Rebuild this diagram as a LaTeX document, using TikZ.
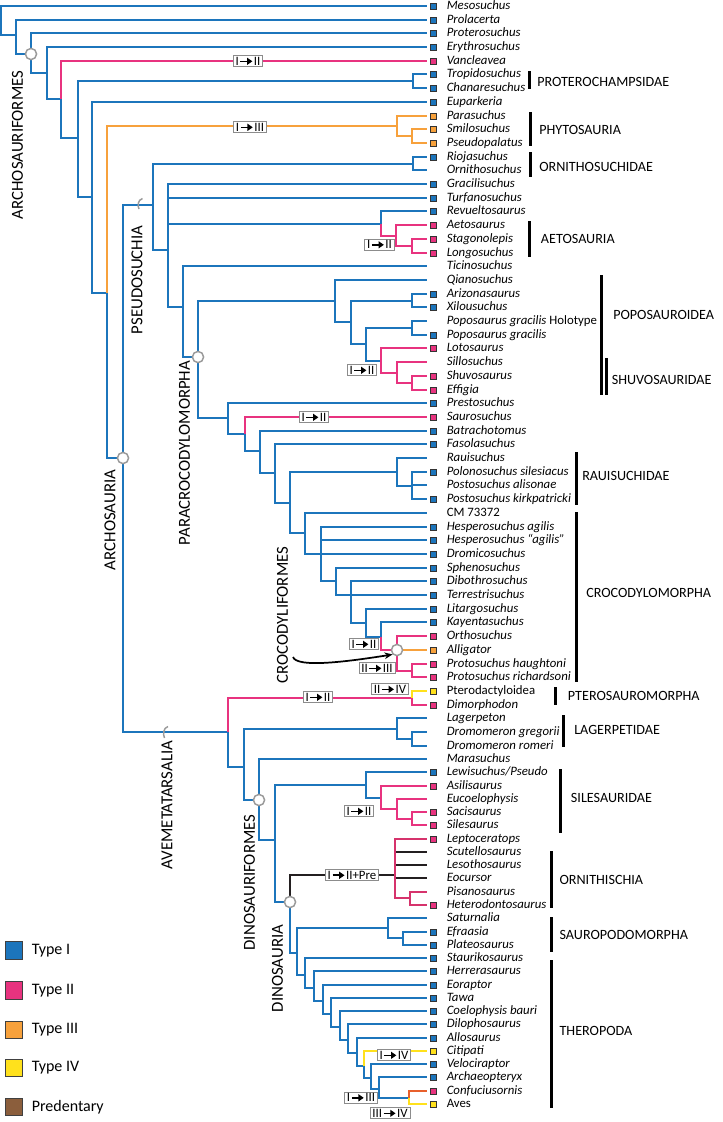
\documentclass[tikz,border=0pt]{standalone}
\usepackage{fontspec}
\setmainfont{Carlito}
\usetikzlibrary{arrows.meta}
\definecolor{cB}{HTML}{1C75BC}
\definecolor{cP}{HTML}{E8337F}
\definecolor{cO}{HTML}{F7A13C}
\definecolor{cY}{HTML}{FFE11C}
\definecolor{cR}{HTML}{E8602C}
\definecolor{cBr}{HTML}{8B5E3C}
\definecolor{cK}{HTML}{231F20}
\definecolor{cOp}{HTML}{D6336C}
\definecolor{cG}{HTML}{9A9A9A}
\newcommand{\tarr}{\kern0.6pt\tikz[baseline=-0.62ex]\draw[line width=1.2pt,-{Triangle[length=4pt,width=5.2pt]}](0,0)--(9pt,0);\kern0.6pt}
\newcommand{\edg}[3][]{\draw[br,#1] (#2) |- (#3);}
\begin{document}
\begin{tikzpicture}[x=0.75pt,y=-0.75pt,
  br/.style={line width=1.5pt,cB},
  thk/.style={line width=2.2pt},
  circ/.style={circle,draw=cG,fill=white,line width=1.1pt,minimum size=8.4pt,inner sep=0pt},
  mk/.style={rectangle,minimum size=4.6pt,inner sep=0pt,draw=black!80,line width=0.5pt},
  tipname/.style={anchor=west,inner sep=0pt,text height=6.6pt,text depth=2pt,font=\itshape\fontsize{9.6}{11}\selectfont},
  tbox/.style={draw=black!45,fill=white,line width=0.6pt,inner xsep=1.8pt,inner ysep=1pt,font=\fontsize{9.6}{10}\selectfont},
  clade/.style={anchor=west,inner sep=0pt,font=\fontsize{10.6}{12}\selectfont},
  cbar/.style={line width=2.3pt,black},
  vlab/.style={rotate=90,inner sep=0pt,font=\fontsize{12.6}{14}\selectfont},
  leg/.style={rectangle,minimum size=13pt,inner sep=0pt,draw=black!75,line width=0.6pt},
  legt/.style={anchor=west,inner sep=0pt,font=\fontsize{12}{14}\selectfont},
  arcm/.style={draw=cG,line width=1.1pt}
]
\useasboundingbox (0,0) rectangle (723,1122);

% ---------- tips ----------
\foreach \i in {1,...,82}{
  \pgfmathsetmacro\yy{\i<56 ? 6+(\i-1)*13.7 : 759+(\i-56)*13.27}
  \pgfmathsetmacro\yy{round(\yy)}
  \coordinate (t\i) at (427,\yy);
}

% ---------- internal nodes ----------
\coordinate (R0) at (1,20);
\coordinate (N16) at (16,35);
\coordinate (N31) at (31,54);
\coordinate (N47) at (47,73);
\coordinate (N61) at (61,99);
\coordinate (N78) at (78,138);
\coordinate (Prot) at (413,81);
\coordinate (N92) at (92,197);
\coordinate (N107) at (107,293);
\coordinate (Phyt) at (397,126);
\coordinate (PhytB) at (412,136);
\coordinate (A) at (123,458);
\coordinate (P) at (153,205);
\coordinate (Orni) at (413,164);
\coordinate (N168) at (168,250);
\coordinate (Aet0) at (381,224);
\coordinate (Aet1) at (396,236);
\coordinate (Aet2) at (412,246);
\coordinate (N183) at (183,307);
\coordinate (PC) at (198,357);
\coordinate (Popo) at (335,301);
\coordinate (N351) at (351,322);
\coordinate (AX) at (412,301);
\coordinate (N366) at (366,344);
\coordinate (PG) at (412,328);
\coordinate (N381) at (381,361);
\coordinate (N396) at (397,373);
\coordinate (SE) at (412,383);
\coordinate (N228) at (228,418);
\coordinate (N245) at (245,434);
\coordinate (N260) at (260,451);
\coordinate (N275) at (275,473);
\coordinate (N290) at (290,503);
\coordinate (Raui) at (397,472);
\coordinate (RauiB) at (412,486);
\coordinate (N305) at (305,533);
\coordinate (N321) at (321,554);
\coordinate (N336) at (336,581);
\coordinate (N351b) at (351,595);
\coordinate (N366b) at (366,623);
\coordinate (N381b) at (381,637);
\coordinate (C) at (397,650);
\coordinate (ProtoN) at (412,671);
\coordinate (AV) at (228,732);
\coordinate (Ptero) at (412,698);
\coordinate (N244) at (244,767);
\coordinate (Lag) at (397,729);
\coordinate (LagB) at (412,739);
\coordinate (DF) at (259,800);
\coordinate (N275b) at (275,840);
\coordinate (Sil) at (366,785);
\coordinate (N381c) at (381,798);
\coordinate (N397c) at (397,809);
\coordinate (SilB) at (412,819);
\coordinate (DN) at (290,902);
\coordinate (Ornith) at (395,875);
\coordinate (OrnB) at (410,898);
\coordinate (SA) at (297,953);
\coordinate (Saur) at (388,928);
\coordinate (SaurB) at (403,938);
\coordinate (N305c) at (305,975);
\coordinate (N314) at (314,988);
\coordinate (N323) at (323,1001);
\coordinate (N331) at (331,1014);
\coordinate (N340) at (340,1027);
\coordinate (N348) at (348,1040);
\coordinate (N357) at (357,1053);
\coordinate (N364) at (364,1066);
\coordinate (N371) at (371,1078);
\coordinate (N379) at (379,1089);
\coordinate (N409) at (409,1098);

% ---------- blue edges ----------
\edg{R0}{t1}\edg{R0}{N16}
\edg{N16}{t2}\edg{N16}{N31}
\edg{N31}{t3}\edg{N31}{N47}
\edg{N47}{t4}\edg{N47}{N61}
\edg{N61}{N78}
\edg{N78}{Prot}\edg{N78}{N92}
\edg{Prot}{t6}\edg{Prot}{t7}
\edg{N92}{t8}\edg{N92}{N107}
\edg{N107}{A}
\edg{A}{P}\edg{A}{AV}
\edg{P}{Orni}\edg{P}{N168}
\edg{Orni}{t12}\edg{Orni}{t13}
\edg{N168}{t14}\edg{N168}{t15}\edg{N168}{Aet0}\edg{N168}{N183}
\edg{Aet0}{t16}
\edg{N183}{t20}\edg{N183}{PC}
\edg{PC}{Popo}\edg{PC}{N228}
\edg{Popo}{t21}\edg{Popo}{N351}
\edg{N351}{AX}\edg{N351}{N366}
\edg{AX}{t22}\edg{AX}{t23}
\edg{N366}{PG}\edg{N366}{N381}
\edg{PG}{t24}\edg{PG}{t25}
\edg{N228}{t30}\edg{N228}{N245}
\edg{N245}{N260}
\edg{N260}{t32}\edg{N260}{N275}
\edg{N275}{t33}\edg{N275}{N290}
\edg{N290}{Raui}\edg{N290}{N305}
\edg{Raui}{t34}\edg{Raui}{RauiB}
\edg{RauiB}{t35}\edg{RauiB}{t36}\edg{RauiB}{t37}
\edg{N305}{t38}\edg{N305}{N321}
\edg{N321}{t39}\edg{N321}{t40}\edg{N321}{t41}\edg{N321}{N336}
\edg{N336}{t42}\edg{N336}{N351b}
\edg{N351b}{t43}\edg{N351b}{t44}\edg{N351b}{N366b}
\edg{N366b}{t45}\edg{N366b}{N381b}
\edg{N381b}{t46}
\edg{AV}{N244}
\edg{N244}{Lag}\edg{N244}{DF}
\edg{Lag}{t53}\edg{Lag}{LagB}
\edg{LagB}{t54}\edg{LagB}{t55}
\edg{DF}{t56}\edg{DF}{N275b}
\edg{N275b}{Sil}\edg{N275b}{DN}
\edg{Sil}{t57}\edg{Sil}{N381c}
\edg{DN}{SA}
\edg{SA}{Saur}\edg{SA}{N305c}
\edg{Saur}{t68}\edg{Saur}{SaurB}
\edg{SaurB}{t69}\edg{SaurB}{t70}
\edg{N305c}{t71}\edg{N305c}{N314}
\edg{N314}{t72}\edg{N314}{N323}
\edg{N323}{t73}\edg{N323}{N331}
\edg{N331}{t74}\edg{N331}{N340}
\edg{N340}{t75}\edg{N340}{N348}
\edg{N348}{t76}\edg{N348}{N357}
\edg{N357}{t77}\edg{N357}{N364}
\edg{N364}{N371}
\edg{N371}{t79}\edg{N371}{N379}
\edg{N379}{t80}\edg{N379}{N409}

% ---------- coloured edges ----------
\edg[cP]{N61}{t5}
\edg[cO]{N107}{Phyt}
\edg[cO]{Phyt}{t9}\edg[cO]{Phyt}{PhytB}
\edg[cO]{PhytB}{t10}\edg[cO]{PhytB}{t11}
\edg[cP]{Aet0}{Aet1}
\edg[cP]{Aet1}{t17}\edg[cP]{Aet1}{Aet2}
\edg[cP]{Aet2}{t18}\edg[cP]{Aet2}{t19}
\edg[cP]{N381}{t26}\edg[cP]{N381}{N396}
\edg[cP]{N396}{t27}\edg[cP]{N396}{SE}
\edg[cP]{SE}{t28}\edg[cP]{SE}{t29}
\edg[cP]{N245}{t31}
\edg[cP]{N381b}{C}
\edg[cP]{C}{t47}\edg[cO]{C}{t48}\edg[cP]{C}{ProtoN}
\edg[cP]{ProtoN}{t49}\edg[cP]{ProtoN}{t50}
\edg[cP]{AV}{Ptero}
\edg[cY]{Ptero}{t51}\edg[cP]{Ptero}{t52}
\edg[cP]{N381c}{t58}\edg[cP]{N381c}{N397c}
\edg[cP]{N397c}{t59}\edg[cP]{N397c}{SilB}
\edg[cP]{SilB}{t60}\edg[cP]{SilB}{t61}
\edg[cK]{DN}{Ornith}
\edg[cK,thk]{Ornith}{t63}\edg[cK,thk]{Ornith}{t64}\edg[cK,thk]{Ornith}{t65}
\edg[cOp,thk]{Ornith}{t62}\edg[cOp,thk]{Ornith}{OrnB}
\edg[cOp,thk]{OrnB}{t66}\edg[cOp,thk]{OrnB}{t67}
\edg[cY]{N364}{t78}
\edg[cR]{N409}{t81}\edg[cY]{N409}{t82}

% ---------- node circles and clade arcs ----------
\node[circ] (cN31) at (N31) {};
\node[circ] (cPC) at (PC) {};
\node[circ] (cA) at (A) {};
\node[circ] (cC) at (C) {};
\node[circ] (cDF) at (DF) {};
\node[circ] (cDN) at (DN) {};
\draw[arcm] (142.5,198.5) .. controls (137.5,200) and (137.5,206) .. (139,209);
\draw[arcm] (168,726.5) .. controls (163,728) and (163,734.5) .. (164.5,738);

% ---------- tip markers ----------
\foreach \i/\c in {1/cB,2/cB,3/cB,4/cB,5/cP,6/cB,7/cB,8/cB,9/cO,10/cO,11/cO,12/cB,
  14/cB,15/cB,16/cB,17/cP,18/cP,19/cP,22/cB,23/cB,25/cB,26/cP,28/cP,29/cP,
  30/cB,31/cP,32/cB,33/cB,35/cB,37/cB,39/cB,40/cB,41/cB,42/cB,43/cB,44/cB,45/cB,46/cB,
  47/cP,48/cO,49/cP,50/cP,51/cY,52/cP,57/cB,58/cP,60/cP,61/cP,62/cP,67/cP,
  69/cB,70/cB,71/cB,72/cB,73/cB,74/cB,75/cB,76/cB,77/cB,78/cY,79/cB,80/cB,81/cP,82/cY}
  {\path (t\i) ++(6,0) node[mk,fill=\c] (m\i) {};}

% ---------- tip names ----------
\foreach \i/\nm in {1/Mesosuchus,2/Prolacerta,3/Proterosuchus,4/Erythrosuchus,5/Vancleavea,
  6/Tropidosuchus,7/Chanaresuchus,8/Euparkeria,9/Parasuchus,10/Smilosuchus,11/Pseudopalatus,
  12/Riojasuchus,13/Ornithosuchus,14/Gracilisuchus,15/Turfanosuchus,16/Revueltosaurus,
  17/Aetosaurus,18/Stagonolepis,19/Longosuchus,20/Ticinosuchus,21/Qianosuchus,
  22/Arizonasaurus,23/Xilousuchus,24/{Poposaurus gracilis {\upshape Holotype}},
  25/Poposaurus gracilis,26/Lotosaurus,27/Sillosuchus,28/Shuvosaurus,29/Effigia,
  30/Prestosuchus,31/Saurosuchus,32/Batrachotomus,33/Fasolasuchus,34/Rauisuchus,
  35/Polonosuchus silesiacus,36/Postosuchus alisonae,37/Postosuchus kirkpatricki,
  38/{\upshape CM 73372},39/Hesperosuchus agilis,40/Hesperosuchus “agilis”,
  41/Dromicosuchus,42/Sphenosuchus,43/Dibothrosuchus,44/Terrestrisuchus,45/Litargosuchus,
  46/Kayentasuchus,47/Orthosuchus,48/Alligator,49/Protosuchus haughtoni,
  50/Protosuchus richardsoni,51/{\upshape Pterodactyloidea},52/Dimorphodon,53/Lagerpeton,
  54/Dromomeron gregorii,55/Dromomeron romeri,56/Marasuchus,57/{Lewisuchus/Pseudo},
  58/Asilisaurus,59/Eucoelophysis,60/Sacisaurus,61/Silesaurus,62/Leptoceratops,
  63/Scutellosaurus,64/Lesothosaurus,65/Eocursor,66/Pisanosaurus,67/Heterodontosaurus,
  68/Saturnalia,69/Efraasia,70/Plateosaurus,71/Staurikosaurus,72/Herrerasaurus,
  73/Eoraptor,74/Tawa,75/Coelophysis bauri,76/Dilophosaurus,77/Allosaurus,78/Citipati,
  79/Velociraptor,80/Archaeopteryx,81/Confuciusornis,82/{\upshape Aves}}
  {\path (t\i) ++(19.5,0) node[tipname] (lab\i) {\nm};}

% ---------- transition boxes ----------
\node[tbox] (bx1) at (248,61) {I\tarr II};
\node[tbox] (bx2) at (250,127) {I\tarr III};
\node[tbox] (bx3) at (379.5,244.5) {I\tarr II};
\node[tbox] (bx4) at (362,370) {I\tarr II};
\node[tbox] (bx5) at (314,417) {I\tarr II};
\node[tbox] (bx6) at (364,644) {I\tarr II};
\node[tbox] (bx7) at (377,668) {II\tarr III};
\node[tbox] (bx8) at (318,697) {I\tarr II};
\node[tbox] (bx9) at (390,689) {II\tarr IV};
\node[tbox] (bx10) at (359,811) {I\tarr II};
\node[tbox] (bx11) at (352,875) {I\tarr II+Pre};
\node[tbox] (bx12) at (394,1055) {I\tarr IV};
\node[tbox] (bx13) at (361,1097.5) {I\tarr III};
\node[tbox] (bx14) at (390,1113) {III\tarr IV};

% ---------- vertical clade names ----------
\node[vlab] (vArf) at (17.5,145) {ARCHOSAURIFORMES};
\node[vlab] (vPs) at (137,280) {PSEUDOSUCHIA};
\node[vlab] (vAr) at (110,520) {ARCHOSAURIA};
\node[vlab] (vPc) at (184.5,453) {PARACROCODYLOMORPHA};
\node[vlab] (vCf) at (282.5,615) {CROCODYLIFORMES};
\node[vlab] (vAv) at (167,805) {AVEMETATARSALIA};
\node[vlab] (vDf) at (249.5,882.5) {DINOSAURIFORMES};
\node[vlab] (vDn) at (277.5,968.5) {DINOSAURIA};

\coordinate (arst) at (293,657);
\draw[line width=1.3pt,-{Stealth[length=6pt,width=5pt]}] (arst) .. controls (297,668) and (345,662) .. (cC.south west);

% ---------- clade bars ----------
\draw[cbar] (529.5,71) -- (529.5,89);
\node[clade] (kProt) at (537,82) {PROTEROCHAMPSIDAE};
\draw[cbar] (530.5,112) -- (530.5,146);
\node[clade] (kPhyt) at (539,130) {PHYTOSAURIA};
\draw[cbar] (530.5,152) -- (530.5,177);
\node[clade] (kOrn) at (539,167) {ORNITHOSUCHIDAE};
\draw[cbar] (529.5,221) -- (529.5,257);
\node[clade] (kAet) at (540.7,239) {AETOSAURIA};
\draw[cbar] (601.5,275) -- (601.5,395);
\node[clade] (kPop) at (613,315) {POPOSAUROIDEA};
\draw[cbar] (606.5,358) -- (606.5,395);
\node[clade] (kShu) at (611.5,380) {SHUVOSAURIDAE};
\draw[cbar] (576.5,452) -- (576.5,505);
\node[clade] (kRau) at (582,476) {RAUISUCHIDAE};
\draw[cbar] (576.5,512) -- (576.5,682);
\node[clade] (kCro) at (586,593) {CROCODYLOMORPHA};
\draw[cbar] (555.5,687) -- (555.5,705);
\node[clade] (kPte) at (567.7,696) {PTEROSAUROMORPHA};
\draw[cbar] (563.5,715) -- (563.5,747);
\node[clade] (kLag) at (574,730) {LAGERPETIDAE};
\draw[cbar] (560.5,769) -- (560.5,833);
\node[clade] (kSil) at (570.7,798.3) {SILESAURIDAE};
\draw[cbar] (551.5,851) -- (551.5,908);
\node[clade] (kOrni) at (559.3,880) {ORNITHISCHIA};
\draw[cbar] (551.5,917) -- (551.5,952);
\node[clade] (kSau) at (559.3,935) {SAUROPODOMORPHA};
\draw[cbar] (551.5,960) -- (551.5,1108);
\node[clade] (kThe) at (559.3,1030.7) {THEROPODA};

% ---------- legend ----------
\node[leg,fill=cB] (g1) at (13.9,950.5) {};
\node[legt] (gt1) at (31.5,950.5) {Type I};
\node[leg,fill=cP] (g2) at (13.9,990.5) {};
\node[legt] (gt2) at (31.5,990.5) {Type II};
\node[leg,fill=cO] (g3) at (13.9,1030) {};
\node[legt] (gt3) at (31.5,1030) {Type III};
\node[leg,fill=cY] (g4) at (13.9,1068) {};
\node[legt] (gt4) at (31.5,1068) {Type IV};
\node[leg,fill=cBr] (g5) at (13.9,1107) {};
\node[legt] (gt5) at (31.5,1107) {Predentary};
\end{tikzpicture}
\end{document}
